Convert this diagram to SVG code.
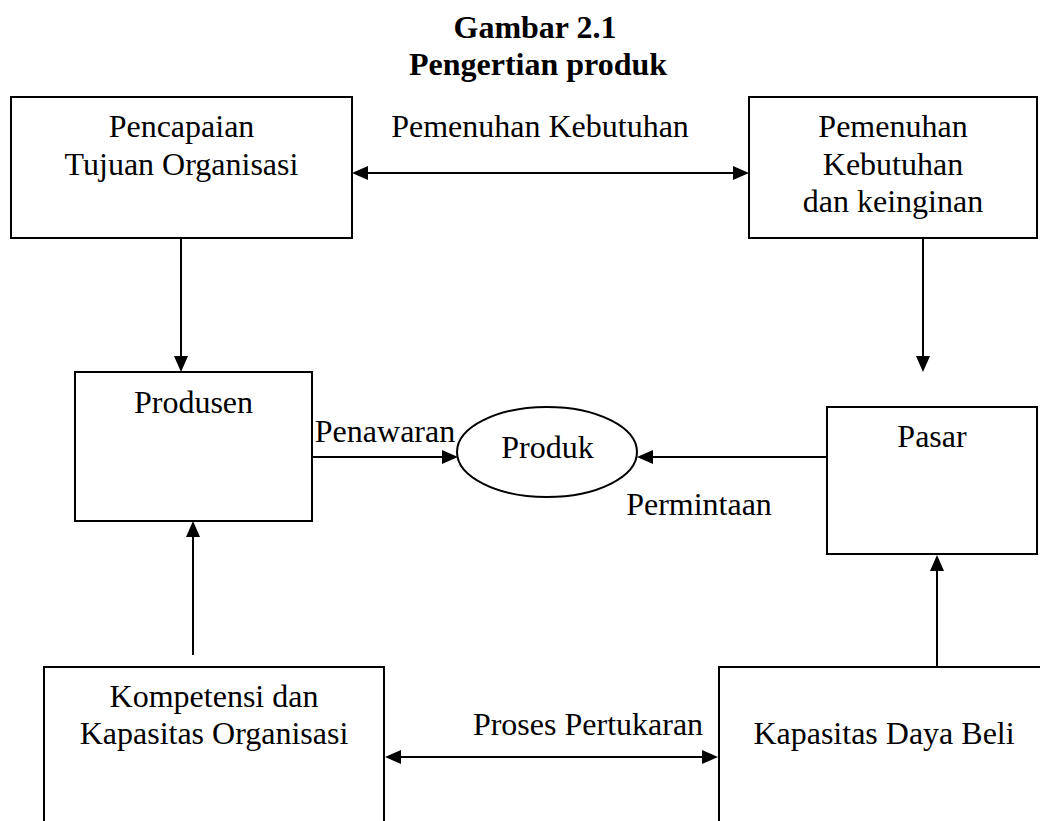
<svg xmlns="http://www.w3.org/2000/svg" width="1040" height="821" viewBox="0 0 1040 821">
<style>
text{font-family:"Liberation Serif","Times New Roman",serif;font-size:32px;fill:#000;text-anchor:middle}
.title{font-weight:bold}
.box{fill:#fff;stroke:#000;stroke-width:2}
.conn{stroke:#000;stroke-width:2;fill:none}
</style>
<defs>
<marker id="ah" viewBox="0 0 16 14" refX="8" refY="7" markerWidth="16" markerHeight="14" markerUnits="userSpaceOnUse" orient="auto-start-reverse">
<path d="M0,0 L16,7 L0,14 Z" fill="#000"/>
</marker>
</defs>
<rect width="1040" height="821" fill="#fff"/>
<g id="title">
<text class="title" x="535" y="38">Gambar 2.1</text>
<text class="title" x="538" y="75">Pengertian produk</text>
</g>
<g id="connectors">
<line class="conn" x1="360" y1="173" x2="741" y2="173" marker-start="url(#ah)" marker-end="url(#ah)"/>
<line class="conn" x1="181" y1="238" x2="181" y2="364" marker-end="url(#ah)"/>
<line class="conn" x1="923" y1="238" x2="923" y2="364" marker-end="url(#ah)"/>
<line class="conn" x1="312" y1="457" x2="450" y2="457" marker-end="url(#ah)"/>
<line class="conn" x1="827" y1="457" x2="645" y2="457" marker-end="url(#ah)"/>
<line class="conn" x1="193" y1="655" x2="193" y2="529" marker-end="url(#ah)"/>
<line class="conn" x1="937" y1="667" x2="937" y2="563" marker-end="url(#ah)"/>
<line class="conn" x1="393" y1="757" x2="710" y2="757" marker-start="url(#ah)" marker-end="url(#ah)"/>
<text x="540" y="137">Pemenuhan Kebutuhan</text>
<text x="385" y="442">Penawaran</text>
<text x="699" y="515">Permintaan</text>
<text x="588" y="735">Proses Pertukaran</text>
</g>
<g id="pencapaian">
<rect class="box" x="11" y="97" width="341" height="141"/>
<text x="181.5" y="137">Pencapaian</text>
<text x="181.5" y="175">Tujuan Organisasi</text>
</g>
<g id="pemenuhan">
<rect class="box" x="749" y="97" width="288" height="141"/>
<text x="893" y="137">Pemenuhan</text>
<text x="893" y="175">Kebutuhan</text>
<text x="893" y="212">dan keinginan</text>
</g>
<g id="produsen">
<rect class="box" x="75" y="372" width="237" height="149"/>
<text x="193.5" y="413">Produsen</text>
</g>
<g id="produk">
<ellipse class="box" cx="547" cy="452" rx="90" ry="45"/>
<text x="547.5" y="458">Produk</text>
</g>
<g id="pasar">
<rect class="box" x="827" y="407" width="210" height="147"/>
<text x="932" y="447">Pasar</text>
</g>
<g id="kompetensi">
<rect class="box" x="44" y="667" width="340" height="170"/>
<text x="214" y="707">Kompetensi dan</text>
<text x="214" y="744">Kapasitas Organisasi</text>
</g>
<g id="kapasitas">
<rect class="box" x="719" y="667" width="340" height="170"/>
<text x="884" y="744">Kapasitas Daya Beli</text>
</g>
</svg>
